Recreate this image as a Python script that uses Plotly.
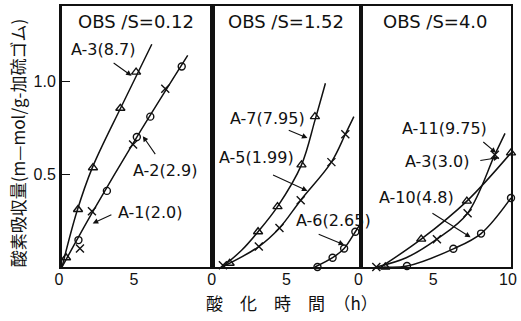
import plotly.graph_objects as go
from plotly.subplots import make_subplots

# ---------------- data ----------------
# Panel 1: OBS/S = 0.12
p1_a3_x = [0.27, 1.07, 2.07, 3.9, 4.95]
p1_a3_y = [0.05, 0.31, 0.535, 0.855, 1.05]
p1_a2_x = [1.1, 3.0, 5.0, 5.9, 8.0]
p1_a2_y = [0.145, 0.41, 0.70, 0.81, 1.08]
p1_a1_x = [1.2, 2.0, 4.75, 6.9]
p1_a1_y = [0.10, 0.30, 0.66, 0.96]
p1_a3_curve_x = [0, 1.0, 2.0, 4.0, 6.0]
p1_a3_curve_y = [0, 0.30, 0.53, 0.87, 1.20]
p1_a12_curve_x = [0, 2.0, 5.0, 8.4]
p1_a12_curve_y = [0, 0.29, 0.70, 1.14]

# Panel 2: OBS/S = 1.52
p2_a7_x = [1.2, 3.1, 4.4, 6.0, 6.9]
p2_a7_y = [0.02, 0.19, 0.325, 0.55, 0.81]
p2_a5_x = [0.75, 3.15, 4.53, 5.95, 8.0, 8.93]
p2_a5_y = [0.01, 0.11, 0.21, 0.36, 0.565, 0.715]
p2_a6_x = [7.07, 8.08, 8.85, 9.6]
p2_a6_y = [0.0, 0.05, 0.10, 0.19]
p2_a7_curve_x = [0.7, 2.0, 3.1, 4.4, 6.0, 6.9, 7.6]
p2_a7_curve_y = [0, 0.09, 0.19, 0.325, 0.55, 0.79, 0.99]
p2_a5_curve_x = [0.7, 3.15, 4.53, 5.95, 8.0, 8.93, 9.5]
p2_a5_curve_y = [0, 0.11, 0.21, 0.36, 0.565, 0.715, 0.81]
p2_a6_curve_x = [6.9, 8.08, 8.85, 9.6, 10.0]
p2_a6_curve_y = [0, 0.05, 0.10, 0.19, 0.24]

# Panel 3: OBS/S = 4.0
p3_a11_x = [1.6, 4.0, 7.05, 10.0]
p3_a11_y = [0.0, 0.15, 0.355, 0.615]
p3_a3_x = [1.0, 5.05, 7.1, 8.92]
p3_a3_y = [0.0, 0.15, 0.29, 0.605]
p3_a10_x = [3.05, 6.15, 8.0, 10.0]
p3_a10_y = [0.005, 0.098, 0.18, 0.372]
p3_a11_curve_x = [1.3, 4.0, 7.05, 10.0]
p3_a11_curve_y = [0, 0.15, 0.355, 0.615]
p3_a3_curve_x = [1.0, 3.0, 5.05, 7.1, 8.92, 9.6]
p3_a3_curve_y = [0, 0.05, 0.15, 0.29, 0.605, 0.72]
p3_a10_curve_x = [1.5, 3.05, 6.15, 8.0, 10.0]
p3_a10_curve_y = [0, 0.005, 0.098, 0.18, 0.372]

panel_titles = ["OBS /S=0.12", "OBS /S=1.52", "OBS /S=4.0"]
y_ticks = [0.5, 1.0]
y_tick_text = ["0.5", "1.0"]
x_ticks = [[0, 5], [0, 5], [0, 5, 10]]

# labels: (panel, text, text_x, text_y, tail_x, tail_y, tip_x, tip_y)
labels = [
    (1, "A-3(8.7)", 2.75, 1.17, 3.35, 1.105, 4.65, 1.03),
    (1, "A-2(2.9)", 6.9, 0.52, 6.3, 0.60, 5.4, 0.705),
    (1, "A-1(2.0)", 5.9, 0.295, 3.4, 0.285, 2.05, 0.235),
    (2, "A-7(7.95)", 3.7, 0.80, 5.05, 0.74, 6.4, 0.695),
    (2, "A-5(1.99)", 3.0, 0.59, 4.0, 0.50, 6.4, 0.41),
    (2, "A-6(2.65)", 8.15, 0.25, 7.05, 0.18, 8.85, 0.12),
    (3, "A-11(9.75)", 5.55, 0.745, 8.05, 0.68, 9.0, 0.615),
    (3, "A-3(3.0)", 5.05, 0.57, 7.85, 0.572, 9.2, 0.59),
    (3, "A-10(4.8)", 3.7, 0.375, 4.65, 0.295, 7.3, 0.16),
]

# ---------------- figure ----------------
fig = make_subplots(rows=1, cols=3, shared_yaxes=True, horizontal_spacing=0)

BLACK = "#111111"
line_style = dict(color=BLACK, width=1.5, shape="spline", smoothing=1.0)

def curve(x, y, col):
    fig.add_trace(go.Scatter(x=x, y=y, mode="lines", line=line_style,
                             showlegend=False, hoverinfo="skip"), row=1, col=col)

def points(x, y, col, symbol, size=8):
    fig.add_trace(go.Scatter(x=x, y=y, mode="markers",
                             marker=dict(symbol=symbol, size=size, color=BLACK,
                                         line=dict(color=BLACK, width=1.4)),
                             showlegend=False, cliponaxis=False), row=1, col=col)

curve(p1_a3_curve_x, p1_a3_curve_y, 1)
curve(p1_a12_curve_x, p1_a12_curve_y, 1)
points(p1_a3_x, p1_a3_y, 1, "triangle-up-open")
points(p1_a2_x, p1_a2_y, 1, "circle-open", 7)
points(p1_a1_x, p1_a1_y, 1, "x-thin-open")

curve(p2_a7_curve_x, p2_a7_curve_y, 2)
curve(p2_a5_curve_x, p2_a5_curve_y, 2)
curve(p2_a6_curve_x, p2_a6_curve_y, 2)
points(p2_a7_x, p2_a7_y, 2, "triangle-up-open")
points(p2_a5_x, p2_a5_y, 2, "x-thin-open")
points(p2_a6_x, p2_a6_y, 2, "circle-open", 7)

curve(p3_a11_curve_x, p3_a11_curve_y, 3)
curve(p3_a3_curve_x, p3_a3_curve_y, 3)
curve(p3_a10_curve_x, p3_a10_curve_y, 3)
points(p3_a11_x, p3_a11_y, 3, "triangle-up-open")
points(p3_a3_x, p3_a3_y, 3, "x-thin-open")
points(p3_a10_x, p3_a10_y, 3, "circle-open", 7)

tick_font = dict(family="Liberation Sans", size=16, color=BLACK)
label_shift = [-3, 0, -3]
for i in range(3):
    fig.update_xaxes(range=[0, 10], tickvals=x_ticks[i],
                     ticktext=[str(v) for v in x_ticks[i]],
                     showgrid=False, zeroline=False, showline=True, mirror=True,
                     linecolor=BLACK, linewidth=2, ticks="", tickfont=tick_font,
                     ticklabeloverflow="allow", ticklabelshift=label_shift[i],
                     ticklabelstandoff=-3,
                     row=1, col=i + 1)
fig.update_yaxes(range=[0, 1.406], showgrid=False, zeroline=False, showline=True,
                 mirror=True, linecolor=BLACK, linewidth=2)
fig.update_yaxes(tickvals=y_ticks, ticktext=y_tick_text, ticks="inside", ticklen=8,
                 tickwidth=1.2, tickcolor=BLACK, tickfont=tick_font, linewidth=3,
                 row=1, col=1)

axis_names = {1: ("x", "y"), 2: ("x2", "y2"), 3: ("x3", "y3")}
for i, t in enumerate(panel_titles):
    xr, yr = axis_names[i + 1]
    fig.add_annotation(x=4.95, y=1.32, xref=xr, yref=yr, text=t, showarrow=False,
                       font=dict(family="DejaVu Sans", size=18, color=BLACK))
for p, txt, tx, ty, ax, ay, hx, hy in labels:
    xr, yr = axis_names[p]
    fig.add_annotation(x=tx, y=ty, xref=xr, yref=yr, text=txt, showarrow=False,
                       font=dict(family="DejaVu Sans", size=16, color=BLACK))
    fig.add_annotation(x=hx, y=hy, xref=xr, yref=yr, ax=ax, ay=ay, axref=xr, ayref=yr,
                       text="", showarrow=True, arrowhead=2, arrowsize=1,
                       arrowwidth=1.1, arrowcolor=BLACK, standoff=0)

# axis titles
fig.add_annotation(xref="paper", yref="paper", x=(293 - 62) / 451, y=-(303 - 267) / 263,
                   text="酸　化　時　間　（h）", showarrow=False, yanchor="middle",
                   font=dict(family="Noto Sans CJK JP", size=17, color=BLACK))
fig.add_annotation(xref="paper", yref="paper", x=-(62 - 18) / 451, y=(267 - 142) / 263,
                   text="酸素吸収量(m—mol/g-加硫ゴム)", showarrow=False, textangle=-90,
                   xanchor="center", yanchor="middle",
                   font=dict(family="Noto Sans CJK JP", size=17, color=BLACK))

fig.update_layout(width=521, height=321, margin=dict(l=62, r=8, t=4, b=54),
                  plot_bgcolor="white", paper_bgcolor="white")

fig.write_html("out.html", config={"displayModeBar": False})

# remove the browser's default page margin so the figure sits at the window origin
with open("out.html", "r", encoding="utf-8") as f:
    html = f.read()
html = html.replace("<body>", '<body style="margin:0;overflow:hidden">', 1)
with open("out.html", "w", encoding="utf-8") as f:
    f.write(html)
